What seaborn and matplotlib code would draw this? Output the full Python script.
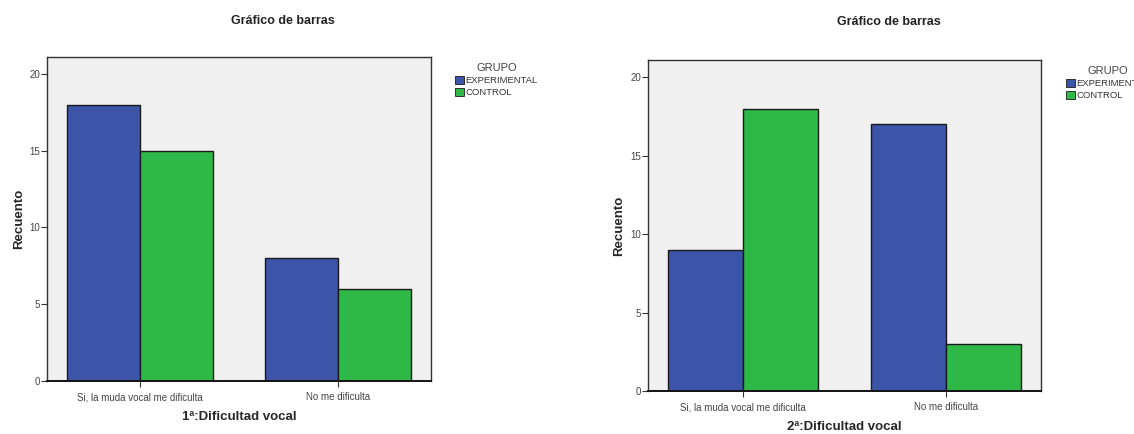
import pandas as pd
import matplotlib
matplotlib.use("Agg")
import matplotlib.pyplot as plt
import seaborn as sns

# values
categorias = ["Si, la muda vocal me dificulta", "No me dificulta"]
grupos = ["EXPERIMENTAL", "CONTROL"]
exp_1 = [18, 8]
ctl_1 = [15, 6]
exp_2 = [9, 17]
ctl_2 = [18, 3]
titulos_x = ["1ª:Dificultad vocal", "2ª:Dificultad vocal"]
yticks = [0, 5, 10, 15, 20]

colores = {"EXPERIMENTAL": "#3D55A8", "CONTROL": "#2DB848"}

sns.set_style("white")
plt.rcParams["font.family"] = ["Liberation Sans", "DejaVu Sans"]


def make_df(exp, ctl):
    rows = []
    for i, cat in enumerate(categorias):
        rows.append({"cat": cat, "GRUPO": "EXPERIMENTAL", "n": exp[i]})
        rows.append({"cat": cat, "GRUPO": "CONTROL", "n": ctl[i]})
    return pd.DataFrame(rows)


fig = plt.figure(figsize=(11.34, 4.34), dpi=100)
W, H = 1134, 434

# panel boxes in pixels: left, top, right, bottom
boxes = [(47, 57, 431, 381), (648, 60, 1041, 391)]
title_pos = [(283, 21), (889, 22)]
legend_pos = [(455, 63), (1066, 66)]
datos = [(exp_1, ctl_1), (exp_2, ctl_2)]

for k in range(2):
    l, t, r, b = boxes[k]
    ax = fig.add_axes([l / W, (H - b) / H, (r - l) / W, (b - t) / H])
    df = make_df(*datos[k])
    sns.barplot(data=df, x="cat", y="n", hue="GRUPO", hue_order=grupos,
                order=categorias, palette=colores, width=0.74, saturation=1,
                edgecolor="#1a1a1a", linewidth=1.0, ax=ax)
    ax.set_facecolor("#F0F0F0")
    ax.set_xlim(-0.47, 1.47)
    ax.set_ylim(0, 21.1)
    ax.set_yticks(yticks)
    for sp in ax.spines.values():
        sp.set_visible(True)
        sp.set_color("#333333")
        sp.set_linewidth(1.0)
    ax.spines["bottom"].set_color("#111111")
    ax.spines["bottom"].set_linewidth(1.4)
    ax.tick_params(axis="both", direction="out", length=4, width=0.8,
                   left=True, bottom=True,
                   color="#333333", labelsize=7, labelcolor="#444444")
    ax.tick_params(axis="x", pad=4)
    ax.tick_params(axis="y", pad=1)
    ax.set_xlabel(titulos_x[k], fontsize=9.5, fontweight="bold")
    ax.set_ylabel("Recuento", fontsize=9.5, fontweight="bold")
    ax.xaxis.set_label_coords(0.5, -0.092)
    ax.yaxis.set_label_coords(-0.057, 0.5)

    tx, ty = title_pos[k]
    fig.text(tx / W, 1 - ty / H, "Gráfico de barras", ha="center", va="center",
             fontsize=9, fontweight="bold", color="#222222")

    lx, ly = legend_pos[k]
    ax.get_legend().remove()
    handles, labels = ax.get_legend_handles_labels()
    leg = fig.legend(handles, labels, title="GRUPO", loc="upper left",
                     bbox_to_anchor=(lx / W, 1 - ly / H),
                     bbox_transform=fig.transFigure, frameon=False,
                     fontsize=6.8, title_fontsize=8, handlelength=0.95,
                     handleheight=0.95, handletextpad=0.15, labelspacing=0.3,
                     borderpad=0, borderaxespad=0)
    for h in leg.legend_handles:
        h.set_edgecolor("#1a1a1a")
        h.set_linewidth(0.6)
    leg.get_title().set_color("#444444")
    for txt in leg.get_texts():
        txt.set_color("#333333")

fig.savefig("out.png", dpi=100)
